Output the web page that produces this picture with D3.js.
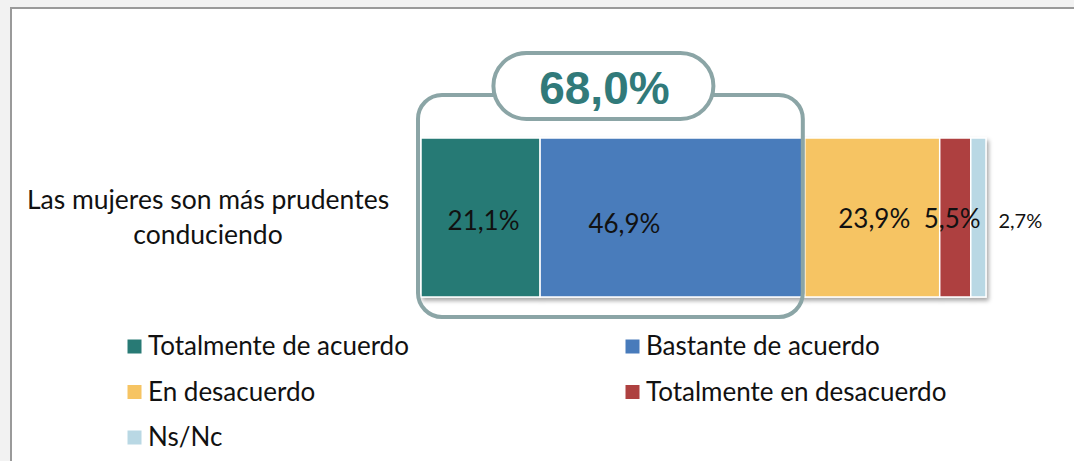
<!DOCTYPE html>
<html>
<head>
<meta charset="utf-8">
<script src="https://cdn.jsdelivr.net/npm/d3@7"></script>
<style>
  body { margin: 0; background: #f2f2f2; }
  svg { display: block; }
</style>
</head>
<body>
<svg width="1074" height="461"></svg>
<script>
var categories = ["Las mujeres son más prudentes conduciendo"]
var categoryLines = ["Las mujeres son más prudentes", "conduciendo"]
var series = ["Totalmente de acuerdo", "Bastante de acuerdo", "En desacuerdo", "Totalmente en desacuerdo", "Ns/Nc"]
var values = [21.1, 46.9, 23.9, 5.5, 2.7]
var labels = ["21,1%", "46,9%", "23,9%", "5,5%", "2,7%"]
var agreeTotal = "68,0%"
var colors = ["#287a75", "#487bbb", "#f6c463", "#ae4140", "#b9d8e4"]

var svg = d3.select("svg")
var font = "Lato, 'Liberation Sans', sans-serif"

// chart area frame
svg.append("rect")
    .attr("x", 11).attr("y", 8)
    .attr("width", 1080).attr("height", 470)
    .style("fill", "#fff")
    .style("stroke", "#9a9a9a")
    .style("stroke-width", 2)

var defs = svg.append("defs")
var f = defs.append("filter").attr("id", "shadow")
    .attr("x", "-5%").attr("y", "-5%").attr("width", "110%").attr("height", "120%")
f.append("feDropShadow")
    .attr("dx", 2).attr("dy", 3).attr("stdDeviation", 2)
    .attr("flood-color", "#000").attr("flood-opacity", 0.35)

var xScale = d3.scaleLinear().domain([0, d3.sum(values)]).range([421, 986])
var yScale = d3.scaleBand().domain(categories).range([138, 297])

var stack = []
var acc = 0
values.forEach(function(v, i) {
    stack.push({ s: series[i], v: v, x0: acc, x1: acc + v, label: labels[i], c: colors[i] })
    acc += v
})

var cat = categories[0]
var bar = svg.append("g").attr("filter", "url(#shadow)")
bar.selectAll("rect")
    .data(stack)
    .enter()
    .append("rect")
    .attr("x", function(d) { return xScale(d.x0) })
    .attr("y", yScale(cat))
    .attr("width", function(d) { return xScale(d.x1) - xScale(d.x0) })
    .attr("height", yScale.bandwidth())
    .style("fill", function(d) { return d.c })
    .style("stroke", "#fff")
    .style("stroke-width", 1.5)

// data labels (nudged like the original)
var nudgeX = [3, -48, 2, -3, 42]
var nudgeY = [12, 15, 10, 10, 10]
var sizes = [26, 26, 26, 26, 20]
svg.append("g").selectAll("text")
    .data(stack)
    .enter()
    .append("text")
    .attr("x", function(d, i) { return (xScale(d.x0) + xScale(d.x1)) / 2 + nudgeX[i] })
    .attr("y", function(d, i) { return yScale(cat) + yScale.bandwidth() / 2 + nudgeY[i] })
    .attr("text-anchor", "middle")
    .style("font-family", font)
    .style("font-size", function(d, i) { return sizes[i] + "px" })
    .style("fill", "#111")
    .text(function(d) { return d.label })

// category label
svg.append("g").selectAll("text")
    .data(categoryLines)
    .enter()
    .append("text")
    .attr("x", 208)
    .attr("y", function(d, i) { return yScale(cat) + 71 + i * 35 })
    .attr("text-anchor", "middle")
    .style("font-family", font)
    .style("font-size", "26.5px")
    .style("fill", "#111")
    .text(function(d) { return d })

// bracket around agreement
var agree = values[0] + values[1]
var fx0 = xScale(0) - 3, fx1 = xScale(agree) - 2
svg.append("rect")
    .attr("x", fx0).attr("y", 95)
    .attr("width", fx1 - fx0).attr("height", 222)
    .attr("rx", 24)
    .style("fill", "none")
    .style("stroke", "#8ba5a6")
    .style("stroke-width", 4)

var cx = (fx0 + fx1) / 2 - 7
svg.append("rect")
    .attr("x", cx - 110).attr("y", 53)
    .attr("width", 220).attr("height", 66)
    .attr("rx", 33)
    .style("fill", "#fff")
    .style("stroke", "#8ba5a6")
    .style("stroke-width", 4)

svg.append("text")
    .attr("x", cx + 1).attr("y", 104)
    .attr("text-anchor", "middle")
    .style("font-family", "'Liberation Sans', Arial, sans-serif")
    .style("font-weight", "bold")
    .style("font-size", "46px")
    .style("fill", "#317a7a")
    .text(agreeTotal)

// legend
var legend = svg.append("g").selectAll("g")
    .data(series)
    .enter()
    .append("g")
    .attr("transform", function(d, i) {
        return "translate(" + (127 + (i % 2) * 498) + "," + (346 + Math.floor(i / 2) * 45.5) + ")"
    })
legend.append("rect")
    .attr("x", 0).attr("y", -7)
    .attr("width", 15).attr("height", 15)
    .style("fill", function(d, i) { return colors[i] })
    .style("stroke", "#fff")
    .style("stroke-width", 1)
legend.append("text")
    .attr("x", 21).attr("y", 9)
    .style("font-family", font)
    .style("font-size", "26px")
    .style("fill", "#111")
    .text(function(d) { return d })
</script>
</body>
</html>
